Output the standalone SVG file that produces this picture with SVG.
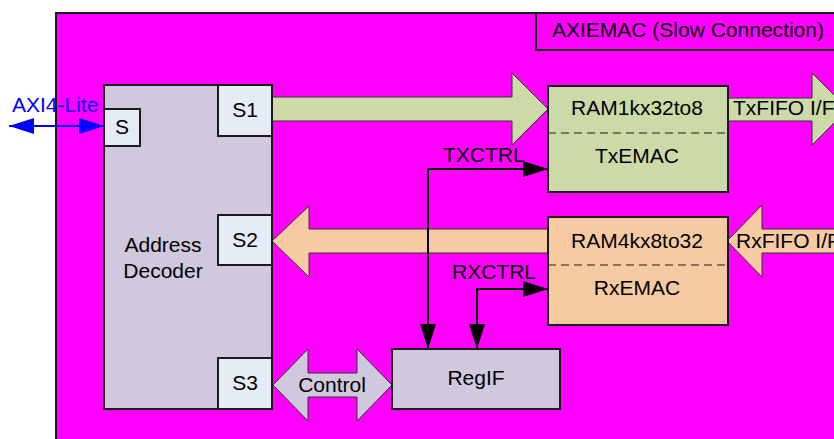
<svg xmlns="http://www.w3.org/2000/svg" width="834" height="439" viewBox="0 0 834 439">
<defs>
<style>
text{font-family:"Liberation Sans",Arial,sans-serif;font-size:21px;fill:#000}
.c{text-anchor:middle}
.box{stroke:#1a1a1a;stroke-width:2}
.lav{fill:#D0C8DC}
.port{fill:#E6ECF6}
.green{fill:#CCDAA8}
.peach{fill:#F8CAA2}
.ln{fill:none;stroke:#000;stroke-width:2}
.dash{stroke:#1a1a1a;stroke-width:1.2;stroke-dasharray:8 5}
.bigarrow{stroke:#333;stroke-width:1}
</style>
<marker id="ah" viewBox="0 0 25 16" refX="25" refY="8" markerWidth="25" markerHeight="16" markerUnits="userSpaceOnUse" orient="auto-start-reverse">
<path d="M0,0 L25,8 L0,16 z" fill="#000"/>
</marker>
<marker id="bh" viewBox="0 0 25 16" refX="25" refY="8" markerWidth="25" markerHeight="16" markerUnits="userSpaceOnUse" orient="auto-start-reverse">
<path d="M0,0 L25,8 L0,16 z" fill="#0000FF"/>
</marker>
</defs>
<rect width="834" height="439" fill="#fff"/>
<g id="axiemac">
<rect x="56" y="13" width="800" height="440" fill="#FF00FF" class="box"/>
<rect x="536" y="13" width="320" height="37" fill="#FF00FF" class="box"/>
<text x="552" y="37">AXIEMAC (Slow Connection)</text>
</g>
<g id="connectors">
<polygon class="bigarrow green" points="272,97 512,97 512,73 548,109 512,145 512,121 272,121"/>
<polygon class="bigarrow green" points="728,98 812,98 812,73 848,109 812,145 812,121 728,121"/>
<polygon class="bigarrow peach" points="548,229 309,229 309,206 272,241 309,277 309,253 548,253"/>
<polygon class="bigarrow peach" points="727,241 762,205 762,229 850,229 850,253 762,253 762,277"/>
<polygon class="bigarrow lav" points="273,385 308,349 308,373 357,373 357,349 392,385 357,421 357,397 308,397 308,421"/>
<path class="ln" d="M428,349 V169 H548" marker-start="url(#ah)" marker-end="url(#ah)"/>
<path class="ln" d="M477,349 V289 H548" marker-start="url(#ah)" marker-end="url(#ah)"/>
<path d="M9,126 H104" fill="none" stroke="#0000FF" stroke-width="2" marker-start="url(#bh)" marker-end="url(#bh)"/>
<text x="733" y="115">TxFIFO I/F</text>
<text x="736" y="248">RxFIFO I/F</text>
<text x="332" y="392" class="c">Control</text>
<text x="443" y="162">TXCTRL</text>
<text x="452" y="279">RXCTRL</text>
<text x="12" y="112" style="fill:#0000FF">AXI4-Lite</text>
</g>
<g id="address-decoder">
<rect x="104" y="85" width="168" height="324" class="box lav"/>
<text x="163" y="252" class="c">Address</text>
<text x="163" y="278" class="c">Decoder</text>
</g>
<g id="port-s">
<rect x="104" y="109" width="36" height="37" class="box port"/>
<text x="122" y="134" class="c">S</text>
</g>
<g id="port-s1">
<rect x="218" y="85" width="54" height="51" class="box port"/>
<text x="245" y="117" class="c">S1</text>
</g>
<g id="port-s2">
<rect x="218" y="215" width="54" height="50" class="box port"/>
<text x="245" y="247" class="c">S2</text>
</g>
<g id="port-s3">
<rect x="218" y="358" width="54" height="51" class="box port"/>
<text x="245" y="390" class="c">S3</text>
</g>
<g id="tx">
<rect x="548" y="86" width="180" height="106" class="box green"/>
<line x1="548" y1="133" x2="728" y2="133" class="dash"/>
<text x="637" y="115" class="c">RAM1kx32to8</text>
<text x="637" y="163" class="c">TxEMAC</text>
</g>
<g id="rx">
<rect x="548" y="217" width="180" height="108" class="box peach"/>
<line x1="548" y1="265" x2="728" y2="265" class="dash"/>
<text x="637" y="248" class="c">RAM4kx8to32</text>
<text x="637" y="295" class="c">RxEMAC</text>
</g>
<g id="regif">
<rect x="392" y="349" width="168" height="60" class="box lav"/>
<text x="476" y="385" class="c">RegIF</text>
</g>
</svg>
